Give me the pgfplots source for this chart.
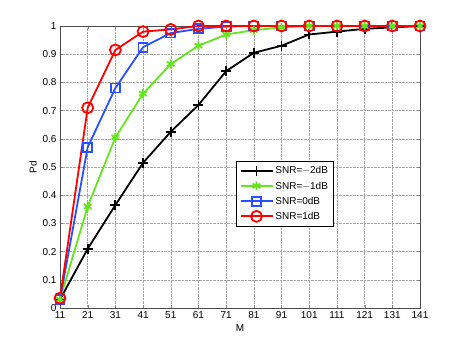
\documentclass[border=0pt]{standalone}
\usepackage{fontspec}
\setmainfont{Liberation Sans}
\usepackage{pgfplots}
\pgfplotsset{compat=1.18}

\definecolor{mgreen}{RGB}{100,230,30}
\definecolor{mblue}{RGB}{40,80,255}

\begin{document}
\begin{tikzpicture}
\begin{axis}[
    scale only axis,
    width=360pt, height=282pt,
    xmin=11, xmax=141, ymin=0, ymax=1,
    xtick={11,21,...,141},
    ytick={0,0.1,...,1},
    yticklabels={0,0.1,0.2,0.3,0.4,0.5,0.6,0.7,0.8,0.9,1},
    /pgf/number format/assume math mode=true,
    tick label style={font=\fontsize{10}{12}\selectfont},
    label style={font=\fontsize{10}{12}\selectfont},
    xlabel={M}, ylabel={Pd},
    xlabel style={yshift=1pt},
    ylabel style={yshift=-1pt},
    tick align=inside,
    major tick length=3pt,
    axis line style={black!70},
    grid=major,
    major grid style={densely dotted, gray!70},
    legend image code/.code={
        \draw[mark=none, line width=1.8pt] (0pt,0.3pt) -- (32pt,0.3pt);
        \draw[only marks] plot coordinates {(16pt,0.3pt)};},
    legend style={at={(0.49,0.52)}, anchor=north west,
        font=\fontsize{10}{12}\selectfont, draw=black,
        row sep=2.5pt, inner sep=3pt},
    legend cell align=left,
    clip=false,
]
\addplot[black, line width=1.8pt, mark=+, mark size=5pt] coordinates {
(11,0.03) (21,0.21) (31,0.365) (41,0.515) (51,0.625) (61,0.72) (71,0.84)
(81,0.905) (91,0.93) (101,0.97) (111,0.98) (121,0.99) (131,0.995) (141,1.0)};
\addlegendentry{SNR=$-$2dB}
\addplot[mgreen, line width=1.8pt, mark=asterisk, mark size=4.5pt] coordinates {
(11,0.03) (21,0.36) (31,0.605) (41,0.76) (51,0.865) (61,0.93) (71,0.97)
(81,0.985) (91,0.995) (101,1.0) (111,1.0) (121,1.0) (131,1.0) (141,1.0)};
\addlegendentry{SNR=$-$1dB}
\addplot[mblue, line width=1.8pt, mark=square, mark size=4.5pt] coordinates {
(11,0.03) (21,0.57) (31,0.78) (41,0.925) (51,0.975) (61,0.99) (71,0.998)
(81,1.0) (91,1.0) (101,1.0) (111,1.0) (121,1.0) (131,1.0) (141,1.0)};
\addlegendentry{SNR=0dB}
\addplot[red, line width=1.8pt, mark=o, mark size=5.5pt] coordinates {
(11,0.035) (21,0.71) (31,0.915) (41,0.98) (51,0.988) (61,1.0) (71,1.0)
(81,1.0) (91,1.0) (101,1.0) (111,1.0) (121,1.0) (131,1.0) (141,1.0)};
\addlegendentry{SNR=1dB}
\end{axis}
\path (current axis.south west) ++(-60pt,-40pt) coordinate (bl);
\path (current axis.north east) ++(43pt,26pt) coordinate (tr);
\path[use as bounding box] (bl) rectangle (tr);
\end{tikzpicture}
\end{document}
